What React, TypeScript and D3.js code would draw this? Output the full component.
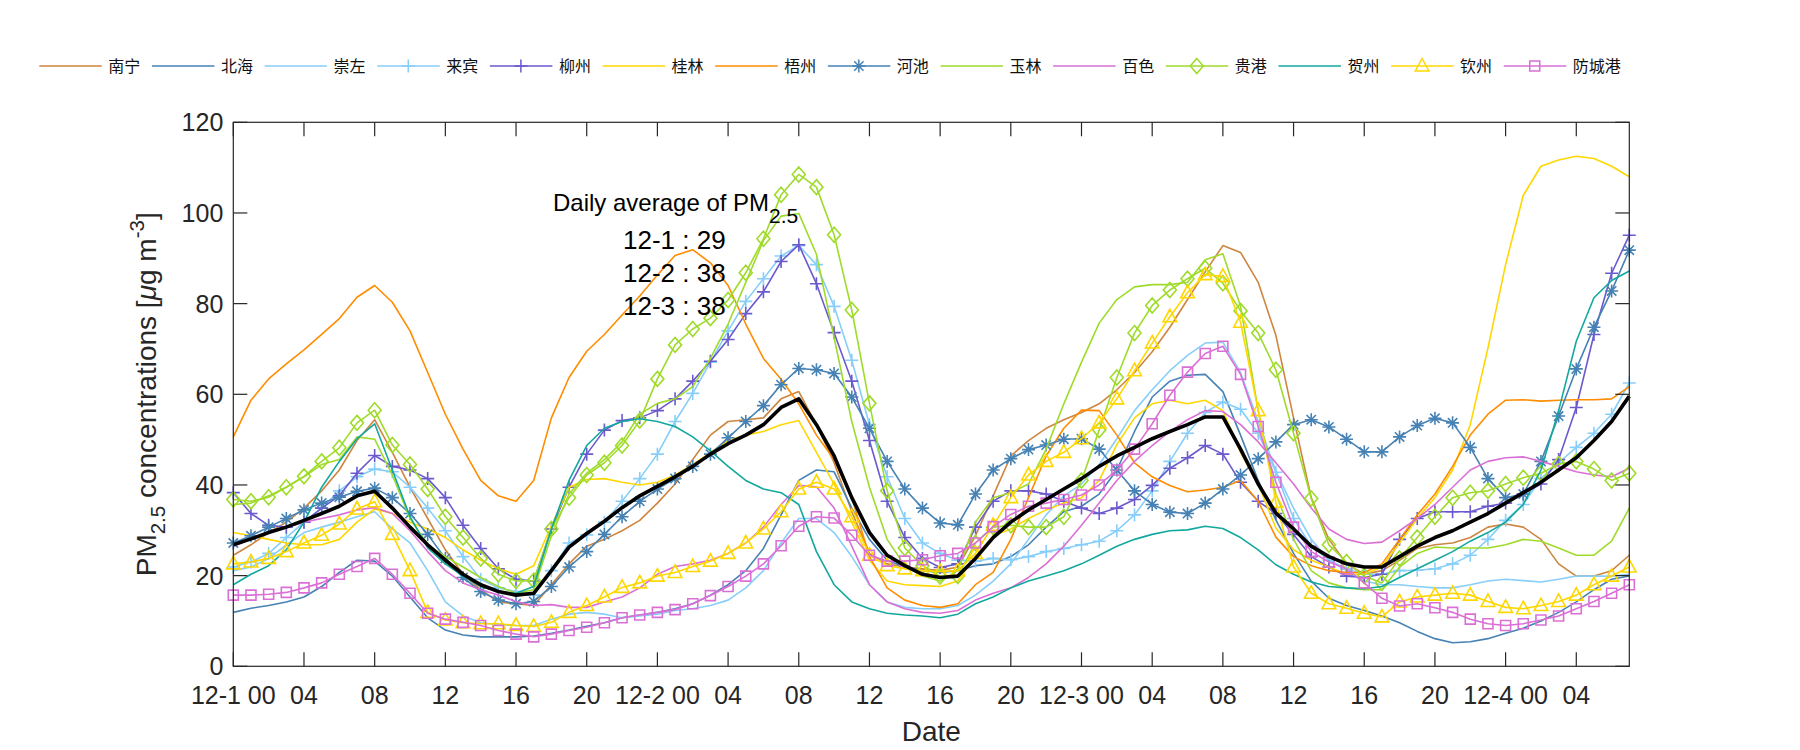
import React from 'react';
import * as d3 from 'd3';

// ---- Data (hourly PM2.5, 12-1 00 .. 12-4 07) ----
const xTickHours = [0, 4, 8, 12, 16, 20, 24, 28, 32, 36, 40, 44, 48, 52, 56, 60, 64, 68, 72, 76];
const xTickLabels = ['12-1 00', '04', '08', '12', '16', '20', '12-2 00', '04', '08', '12', '16', '20', '12-3 00', '04', '08', '12', '16', '20', '12-4 00', '04'];
const yTicks = [0, 20, 40, 60, 80, 100, 120];

const nanning = [24.5, 26.8, 29.5, 31.8, 34.9, 38.7, 43.3, 49.8, 54.4, 47.2, 39.5, 32.6, 25.7, 20.3, 16.9, 14.2, 13.8, 13.4, 18.0, 22.6, 26.5,
  28.0, 29.9, 32.2, 36.0, 40.2, 45.6, 51.0, 54.0, 54.4, 54.8, 59.0, 60.6, 53.3, 44.9, 34.1, 24.9, 22.6, 21.9, 21.5, 21.1,
  21.9, 28.8, 37.6, 46.4, 49.8, 52.5, 54.4, 56.0, 57.9, 61.0, 64.8, 69.4, 74.8, 80.9, 87.0, 92.8, 91.3, 84.7, 73.0,
  54.8, 37.2, 28.0, 22.6, 20.3, 21.1, 23.4, 26.0, 26.8, 27.2, 28.4, 30.7, 31.4, 30.7, 28.0, 22.6, 19.9, 19.9, 21.1, 24.5];
const beihai = [11.9, 12.8, 13.4, 14.2, 15.3, 17.6, 20.7, 23.4, 23.2, 19.9, 15.3, 10.7, 8.0, 6.9, 6.5, 6.5, 6.5, 6.7, 7.3, 8.0, 8.8,
  9.6, 10.7, 11.3, 11.9, 12.7, 13.8, 15.7, 18.0, 21.1, 26.0, 33.4, 41.0, 43.3, 42.9, 34.9, 28.0, 23.4, 21.9, 21.1, 20.7,
  21.1, 22.2, 22.6, 24.2, 26.8, 30.7, 34.1, 35.3, 38.0, 43.3, 51.8, 59.4, 62.9, 64.2, 64.4, 60.6, 51.0, 41.0, 32.3,
  24.9, 18.8, 15.0, 13.4, 12.3, 11.1, 9.6, 7.7, 6.1, 5.2, 5.4, 6.1, 7.3, 8.4, 10.0, 11.9, 14.2, 16.9, 19.2, 19.9];
const chongzuo = [21.1, 21.9, 23.8, 26.8, 29.5, 30.7, 31.8, 33.0, 34.1, 30.3, 27.2, 21.1, 14.2, 11.1, 9.6, 9.2, 9.0, 9.0, 10.4, 11.5, 11.9,
  11.5, 10.7, 11.1, 11.5, 12.3, 12.7, 13.4, 14.6, 17.3, 21.1, 27.2, 32.6, 32.6, 29.5, 24.2, 18.0, 14.2, 13.0, 12.7, 12.7,
  13.4, 15.7, 18.8, 22.6, 28.0, 33.4, 37.6, 40.2, 44.5, 50.2, 56.4, 61.0, 65.2, 68.6, 71.3, 71.5, 64.8, 54.0, 43.0,
  34.9, 28.0, 23.4, 21.1, 18.8, 18.0, 18.0, 17.6, 17.3, 17.3, 18.0, 18.8, 19.2, 18.9, 18.6, 19.2, 19.9, 19.9, 19.9, 20.3];
const laibin = [21.9, 23.0, 24.9, 28.4, 31.8, 34.9, 38.7, 41.8, 43.5, 42.9, 39.5, 34.9, 29.9, 24.2, 19.2, 17.3, 16.5, 15.7, 21.1, 27.2, 29.0,
  31.8, 36.4, 41.4, 46.8, 54.0, 60.2, 67.1, 74.0, 80.5, 85.5, 90.5, 92.8, 88.6, 79.4, 67.5, 53.3, 41.8, 32.6, 27.2, 24.9,
  23.4, 23.2, 23.8, 23.5, 24.2, 25.3, 26.0, 26.8, 27.6, 29.9, 33.4, 38.7, 45.2, 51.4, 56.0, 58.3, 56.7, 51.4, 42.8,
  32.6, 26.5, 23.4, 21.5, 20.3, 20.3, 21.1, 21.2, 21.5, 22.6, 24.5, 28.0, 32.2, 35.7, 41.4, 44.9, 48.3, 51.4, 55.6, 62.5];
const liuzhou = [38.3, 33.7, 31.1, 30.7, 31.8, 34.9, 37.6, 42.6, 46.5, 44.1, 43.3, 41.4, 37.2, 31.1, 26.0, 21.5, 19.2, 18.8, 30.3, 39.5, 46.8,
  52.1, 54.2, 54.8, 56.4, 59.0, 62.9, 67.3, 72.1, 77.8, 82.6, 89.3, 93.0, 84.4, 73.6, 62.9, 49.8, 36.4, 28.4, 23.8, 21.8,
  22.6, 30.7, 36.4, 38.7, 38.7, 38.0, 36.4, 34.9, 33.7, 34.9, 36.8, 39.9, 43.7, 46.0, 48.7, 46.8, 40.6, 36.4, 33.7,
  29.1, 24.2, 21.9, 19.9, 19.6, 20.3, 28.0, 32.6, 34.1, 34.1, 34.1, 35.3, 36.0, 38.0, 40.2, 45.6, 57.1, 73.2, 86.7, 95.1];
const guilin = [29.5, 28.8, 28.0, 27.2, 26.8, 26.8, 28.0, 31.8, 34.7, 33.7, 31.8, 30.3, 28.4, 25.7, 23.4, 21.5, 20.3, 22.2, 31.0, 39.5, 41.2,
  41.4, 40.6, 40.0, 40.6, 42.2, 44.5, 47.2, 49.8, 51.0, 51.8, 53.3, 54.2, 47.2, 40.2, 31.8, 23.4, 18.8, 18.0, 17.8, 17.6,
  18.8, 24.2, 28.8, 30.3, 32.6, 34.5, 36.0, 37.2, 41.0, 48.9, 54.8, 57.9, 58.7, 57.9, 58.7, 56.4, 47.2, 40.2, 30.5,
  25.7, 23.4, 21.9, 20.3, 20.3, 21.9, 27.2, 32.6, 37.2, 43.3, 53.3, 70.2, 88.6, 103.9, 110.3, 111.7, 112.5, 112.0, 110.3, 108.0];
const wuzhou = [50.6, 58.7, 63.4, 66.7, 69.8, 73.2, 76.7, 81.4, 84.0, 80.3, 74.0, 64.8, 55.6, 47.9, 41.0, 37.6, 36.4, 41.0, 54.8, 63.7, 69.5,
  73.2, 77.5, 81.7, 86.3, 90.6, 91.9, 89.0, 84.0, 75.5, 67.9, 63.3, 57.9, 51.0, 45.6, 37.2, 24.2, 17.3, 14.6, 13.4, 13.0,
  13.8, 18.0, 20.7, 28.0, 37.2, 46.4, 52.5, 56.5, 56.4, 51.0, 44.9, 41.8, 39.9, 38.5, 38.9, 39.5, 41.0, 36.4, 28.5,
  24.2, 22.2, 21.1, 20.7, 20.7, 22.6, 28.0, 33.4, 38.0, 44.1, 51.0, 55.6, 58.7, 58.8, 58.5, 58.7, 58.8, 58.8, 59.0, 61.7];
const hechi = [27.2, 28.8, 30.7, 32.6, 34.5, 36.0, 37.3, 38.6, 39.3, 37.2, 33.7, 29.1, 23.8, 19.6, 16.5, 14.6, 13.8, 14.3, 17.6, 21.9, 25.3,
  29.1, 33.0, 36.4, 39.1, 41.4, 44.1, 46.8, 50.4, 54.0, 57.5, 62.1, 65.7, 65.4, 64.6, 59.4, 52.5, 45.2, 39.1, 34.9, 31.6,
  31.2, 38.0, 43.3, 45.8, 47.8, 48.8, 50.1, 50.2, 47.9, 43.3, 38.7, 35.7, 34.0, 33.7, 36.0, 39.1, 42.2, 45.8, 49.5,
  53.3, 54.4, 52.8, 50.1, 47.3, 47.3, 50.6, 53.1, 54.7, 53.7, 48.3, 41.4, 37.2, 38.0, 45.2, 55.2, 65.6, 74.8, 82.8, 91.8];
const yulin = [35.7, 36.0, 37.6, 39.5, 41.8, 44.5, 45.6, 50.6, 50.1, 42.2, 32.6, 26.8, 24.2, 21.9, 19.6, 17.6, 16.1, 16.9, 28.8, 38.0, 42.6,
  45.6, 49.5, 55.6, 58.0, 59.0, 61.7, 67.9, 75.5, 84.7, 93.9, 99.3, 99.9, 90.9, 72.5, 54.0, 39.5, 28.0, 22.2, 19.9, 18.8,
  21.1, 31.8, 37.2, 38.3, 40.2, 47.9, 57.9, 67.1, 75.7, 80.9, 83.7, 84.2, 84.2, 84.7, 89.7, 91.0, 79.4, 56.4, 38.0,
  28.0, 21.1, 18.4, 17.3, 16.9, 16.9, 21.9, 24.9, 26.3, 26.1, 26.1, 26.1, 26.8, 28.0, 27.6, 26.1, 24.5, 24.5, 27.6, 34.9];
const baise = [26.5, 28.0, 29.5, 30.7, 31.8, 32.6, 33.4, 34.5, 35.0, 33.7, 29.9, 25.3, 21.1, 18.4, 16.9, 15.7, 14.3, 13.4, 13.6, 13.0, 13.0,
  14.2, 15.3, 17.3, 20.3, 22.0, 22.6, 23.4, 24.9, 27.2, 30.7, 35.7, 39.9, 39.6, 34.9, 26.5, 18.0, 14.2, 12.7, 11.9, 11.7,
  12.3, 14.6, 16.1, 17.3, 19.6, 22.6, 26.5, 31.1, 36.0, 41.0, 45.2, 48.7, 51.8, 54.4, 56.4, 56.2, 53.3, 49.5, 44.9,
  40.2, 34.9, 30.3, 28.0, 27.1, 27.4, 29.9, 32.6, 35.7, 39.5, 43.3, 45.2, 46.0, 46.2, 45.2, 44.1, 42.9, 42.2, 41.8, 43.7];
const guigang = [36.8, 36.4, 37.3, 39.5, 41.9, 45.2, 48.2, 53.7, 56.5, 48.8, 44.5, 39.1, 33.0, 28.4, 23.8, 20.3, 18.8, 18.9, 30.3, 37.2, 42.2,
  44.9, 48.7, 54.2, 63.4, 70.9, 74.4, 76.8, 80.8, 86.8, 94.3, 104.0, 108.5, 105.7, 95.2, 78.6, 58.0, 38.7, 26.1, 22.2, 19.8,
  19.9, 27.2, 30.7, 31.1, 30.7, 30.7, 33.0, 41.0, 52.1, 63.7, 73.5, 79.6, 83.0, 85.5, 87.8, 84.5, 78.4, 73.5, 65.4,
  51.4, 37.0, 26.8, 23.0, 19.9, 18.4, 23.8, 28.4, 33.0, 37.2, 38.3, 38.7, 40.2, 41.6, 42.6, 44.6, 45.2, 43.5, 41.0, 42.6];
const hezhou = [18.0, 20.3, 22.2, 25.7, 31.8, 39.5, 45.2, 50.2, 53.5, 43.3, 33.0, 26.1, 22.6, 19.9, 17.6, 16.5, 16.1, 17.6, 30.3, 41.0, 48.7,
  52.5, 54.0, 54.6, 54.0, 52.9, 50.6, 47.5, 44.1, 41.0, 39.1, 38.3, 35.7, 25.3, 18.0, 14.2, 12.7, 11.7, 11.3, 11.1, 10.7,
  11.5, 13.8, 15.3, 17.3, 18.8, 19.9, 21.1, 22.6, 24.5, 26.5, 28.0, 29.1, 29.9, 30.1, 30.9, 30.4, 28.4, 25.7, 22.4,
  20.3, 18.6, 17.6, 17.3, 17.1, 17.6, 19.6, 21.5, 23.4, 25.3, 27.6, 29.5, 31.8, 35.7, 43.3, 56.4, 71.7, 81.3, 85.1, 87.2];
const qinzhou = [22.6, 23.0, 23.8, 25.3, 27.2, 28.9, 31.4, 34.7, 36.3, 29.1, 21.1, 11.9, 10.2, 9.6, 9.4, 9.4, 9.0, 8.8, 9.7, 11.9, 13.4,
  15.3, 17.4, 18.4, 19.9, 20.7, 22.0, 23.2, 24.9, 27.2, 30.3, 34.1, 39.1, 40.6, 39.1, 33.0, 24.5, 22.2, 21.5, 21.1, 20.9,
  21.1, 24.9, 31.1, 37.2, 42.2, 45.2, 47.2, 50.2, 53.7, 59.0, 65.2, 71.3, 77.1, 82.4, 86.4, 86.0, 75.9, 56.4, 36.2,
  21.9, 16.1, 13.8, 12.8, 11.7, 10.9, 14.2, 15.3, 15.7, 16.1, 15.7, 14.3, 13.0, 12.7, 13.4, 14.3, 15.7, 18.0, 19.9, 21.9];
const fangchenggang = [15.7, 15.7, 15.9, 16.3, 17.3, 18.4, 20.3, 22.0, 23.8, 20.3, 16.1, 11.7, 10.4, 9.7, 9.0, 7.9, 7.1, 6.5, 7.1, 7.9, 8.6,
  9.6, 10.7, 11.3, 11.9, 12.5, 13.8, 15.6, 17.6, 19.9, 22.6, 26.6, 30.9, 33.0, 32.7, 28.9, 24.5, 23.2, 23.2, 23.5, 24.4,
  24.9, 27.2, 30.8, 33.5, 35.3, 36.0, 36.8, 37.8, 40.0, 43.3, 47.9, 53.5, 59.8, 64.9, 69.0, 70.6, 64.4, 52.9, 40.6,
  30.7, 25.3, 23.0, 21.5, 18.4, 15.0, 13.3, 13.8, 12.9, 11.9, 10.4, 9.4, 9.0, 9.4, 10.2, 11.1, 12.7, 14.3, 16.1, 18.0];
const average = [26.8, 28.1, 29.5, 30.7, 32.2, 33.7, 35.3, 37.6, 38.6, 34.9, 30.7, 26.8, 23.4, 20.3, 18.0, 16.5, 15.7, 16.1, 21.1, 26.3, 29.3,
  32.0, 35.0, 37.6, 39.7, 41.8, 44.1, 46.8, 49.1, 51.0, 53.3, 57.1, 59.0, 53.3, 46.4, 37.2, 29.5, 24.5, 22.2, 20.3, 19.6,
  19.9, 23.8, 28.4, 31.8, 34.5, 36.8, 39.1, 41.4, 44.1, 46.4, 48.3, 50.2, 51.8, 53.3, 55.0, 55.0, 47.9, 40.2, 33.8,
  30.3, 26.5, 24.2, 22.6, 21.9, 21.9, 24.2, 26.5, 28.4, 29.9, 31.8, 33.7, 36.0, 38.3, 40.6, 43.3, 46.0, 49.8, 54.0, 59.6];

const cityNames = ['南宁', '北海', '崇左', '来宾', '柳州', '桂林', '梧州', '河池', '玉林', '百色', '贵港', '贺州', '钦州', '防城港'];
const cityData = [nanning, beihai, chongzuo, laibin, liuzhou, guilin, wuzhou, hechi, yulin, baise, guigang, hezhou, qinzhou, fangchenggang];
const cityColors = ['#CD853F', '#4682B4', '#87CEFA', '#87CEFA', '#6A5ACD', '#FFD700', '#FF8C00', '#4682B4', '#9FDB2A', '#DA70D6', '#9FDB2A', '#12A89E', '#FFD700', '#DA70D6'];
const cityMarkers = ['none', 'none', 'none', 'plus', 'plus', 'none', 'none', 'star', 'none', 'none', 'diamond', 'none', 'triangle', 'square'];

const annotationLines = ['12-1 : 29', '12-2 : 38', '12-3 : 38'];

// ---- Layout ----
const W = 1800;
const H = 750;
const X0 = 233.3;
const X1 = 1629.3;
const Y0 = 666.3;
const Y1 = 122.3;
const AXIS = '#262626';
const FONT = '"Liberation Sans", Arial, sans-serif';

function markerPath(type: string, cx: number, cy: number): string {
  if (type === 'plus') {
    const s = 6.5;
    return `M${cx - s},${cy}H${cx + s}M${cx},${cy - s}V${cy + s}`;
  }
  if (type === 'star') {
    const s = 6.5;
    const d = s * 0.72;
    return `M${cx - s},${cy}H${cx + s}M${cx},${cy - s}V${cy + s}M${cx - d},${cy - d}L${cx + d},${cy + d}M${cx - d},${cy + d}L${cx + d},${cy - d}`;
  }
  if (type === 'diamond') {
    return `M${cx},${cy - 7.5}L${cx + 6.5},${cy}L${cx},${cy + 7.5}L${cx - 6.5},${cy}Z`;
  }
  if (type === 'triangle') {
    return `M${cx},${cy - 7.5}L${cx + 6.8},${cy + 5}L${cx - 6.8},${cy + 5}Z`;
  }
  if (type === 'square') {
    return `M${cx - 5},${cy - 5}H${cx + 5}V${cy + 5}H${cx - 5}Z`;
  }
  return '';
}

export default function App() {
  const x = d3.scaleLinear().domain([0, 79]).range([X0, X1]);
  const y = d3.scaleLinear().domain([0, 120]).range([Y0, Y1]);
  const line = d3.line<number>().x((_, i) => x(i)).y((d) => y(d));

  const legendStart = 39.3;
  const legendStep = 112.65;
  const legendY = 66;

  return (
    <svg width={W} height={H} style={{ position: 'absolute', left: 0, top: 0, background: '#fff' }} fontFamily={FONT}>
      <rect x={0} y={0} width={W} height={H} fill="#fff" />
      {/* Legend */}
      {cityNames.map((name, i) => {
        const lx = legendStart + i * legendStep;
        const mp = markerPath(cityMarkers[i], lx + 31, legendY);
        return (
          <g key={name}>
            <line x1={lx} x2={lx + 62.5} y1={legendY} y2={legendY} stroke={cityColors[i]} strokeWidth={1.5} />
            {mp && <path d={mp} fill="none" stroke={cityColors[i]} strokeWidth={1.5} />}
            <text x={lx + 69} y={legendY + 6} fontSize={16} fontFamily='"Noto Sans CJK SC", sans-serif' fill="#111">{name}</text>
          </g>
        );
      })}

      {/* Series */}
      <g>
        {cityData.map((data, i) => (
          <g key={cityNames[i]}>
            <path d={line(data) || ''} fill="none" stroke={cityColors[i]} strokeWidth={1.6} strokeLinejoin="round" />
            {cityMarkers[i] !== 'none' && (
              <path d={data.map((v, j) => markerPath(cityMarkers[i], x(j), y(v))).join('')} fill="none" stroke={cityColors[i]} strokeWidth={1.6} />
            )}
          </g>
        ))}
        <path d={line(average) || ''} fill="none" stroke="#000" strokeWidth={3.6} strokeLinejoin="round" />
      </g>

      {/* Frame and ticks */}
      <rect x={X0} y={Y1} width={X1 - X0} height={Y0 - Y1} fill="none" stroke={AXIS} strokeWidth={1.2} />
      {xTickHours.map((h) => (
        <g key={'xt' + h}>
          <line x1={x(h)} x2={x(h)} y1={Y0} y2={Y0 - 14} stroke={AXIS} strokeWidth={1.2} />
          <line x1={x(h)} x2={x(h)} y1={Y1} y2={Y1 + 14} stroke={AXIS} strokeWidth={1.2} />
        </g>
      ))}
      {yTicks.map((v) => (
        <g key={'yt' + v}>
          <line x1={X0} x2={X0 + 14} y1={y(v)} y2={y(v)} stroke={AXIS} strokeWidth={1.2} />
          <line x1={X1} x2={X1 - 14} y1={y(v)} y2={y(v)} stroke={AXIS} strokeWidth={1.2} />
          <text x={X0 - 10} y={y(v) + 9} fontSize={25} textAnchor="end" fill={AXIS}>{v}</text>
        </g>
      ))}
      {xTickHours.map((h, i) => (
        <text key={'xl' + h} x={x(h)} y={704} fontSize={25} textAnchor="middle" fill={AXIS}>{xTickLabels[i]}</text>
      ))}

      {/* Axis labels */}
      <text x={(X0 + X1) / 2} y={741} fontSize={28} textAnchor="middle" fill={AXIS}>Date</text>
      <text transform={`translate(156,${(Y0 + Y1) / 2}) rotate(-90)`} fontSize={28} textAnchor="middle" fill={AXIS}>
        PM<tspan fontSize={20.5} dy={8.5}>2.5</tspan><tspan dy={-8.5}> concentrations [</tspan><tspan fontStyle="italic">μ</tspan>g m<tspan fontSize={20.5} dy={-12}>-3</tspan><tspan dy={12}>]</tspan>
      </text>

      {/* Annotation */}
      <text x={553} y={210.6} fontSize={24} fill="#000">
        Daily average of PM<tspan fontSize={21} dy={12}>2.5</tspan>
      </text>
      {annotationLines.map((t, i) => (
        <text key={t + i} x={623} y={249 + i * 33} fontSize={26} fill="#000">{t}</text>
      ))}
    </svg>
  );
}
